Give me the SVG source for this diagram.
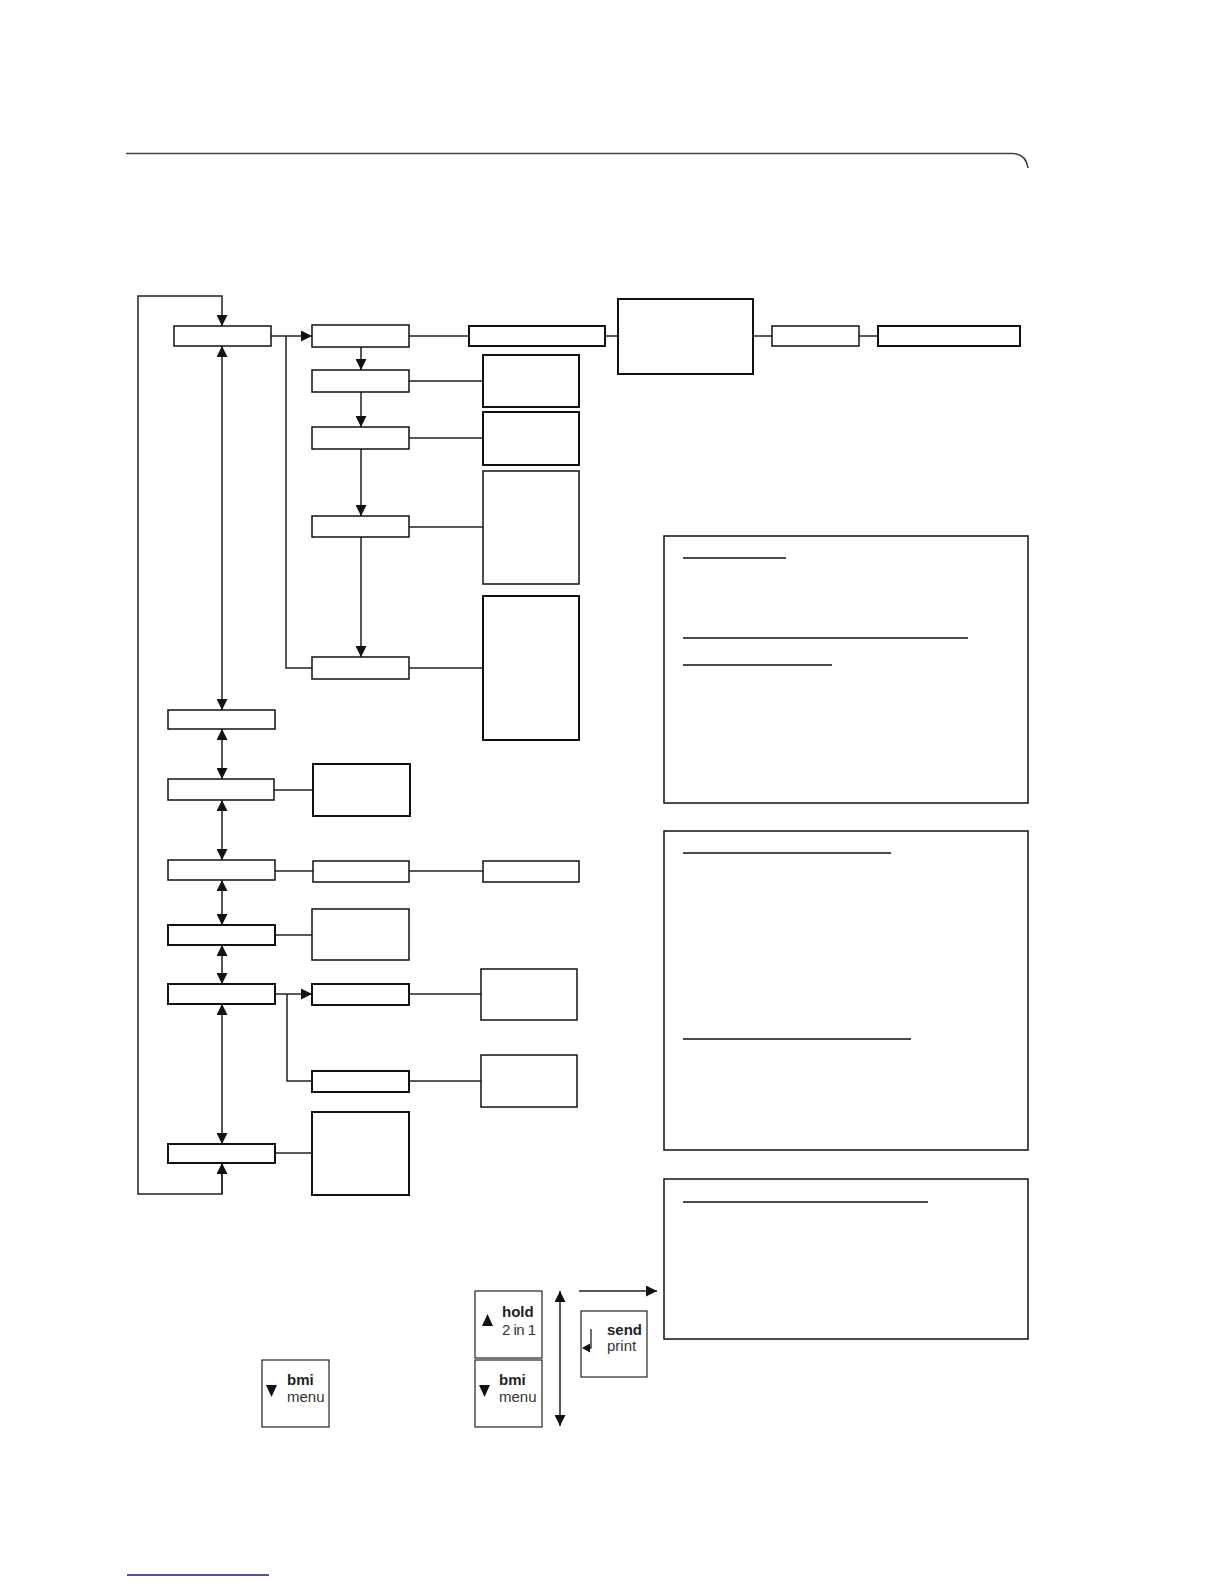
<svg xmlns="http://www.w3.org/2000/svg" width="1224" height="1584" viewBox="0 0 1224 1584">
<style>
.n{fill:#fff;stroke:#111;stroke-width:1.5}
.nb{fill:#fff;stroke:#111;stroke-width:2}
.c{fill:none;stroke:#222;stroke-width:1.5}
.ul{stroke:#111;stroke-width:1.6}
.k{fill:#fff;stroke:#222;stroke-width:1.2}
.tb{font-family:"Liberation Sans",Arial,sans-serif;font-size:15px;font-weight:bold;fill:#222}
.tr{font-family:"Liberation Sans",Arial,sans-serif;font-size:15px;fill:#333}
</style>
<defs>
<marker id="ah" markerUnits="userSpaceOnUse" markerWidth="11" markerHeight="11" refX="11" refY="5.5" orient="auto-start-reverse">
<path d="M0,0 L11,5.5 L0,11 z" fill="#111"/>
</marker>
</defs>
<rect width="1224" height="1584" fill="#fff"/>
<g id="header">
<path d="M126,153.5 H1013 Q1026,154 1028,168" fill="none" stroke="#444" stroke-width="1.6"/>
</g>
<g id="footer">
<line x1="127" y1="1575" x2="269" y2="1575" stroke="#1a1a80" stroke-width="1.6"/>
</g>
<g id="connectors">
<polyline class="c" points="222,1163 222,1194 138,1194 138,296 222,296 222,326" marker-end="url(#ah)"/>
<line class="c" x1="222" y1="1194" x2="222" y2="1163" marker-end="url(#ah)"/>
<line class="c" x1="271" y1="336" x2="312" y2="336" marker-end="url(#ah)"/>
<polyline class="c" points="286,336 286,668 312,668"/>
<line class="c" x1="409" y1="336" x2="469" y2="336"/>
<line class="c" x1="605" y1="336" x2="618" y2="336"/>
<line class="c" x1="753" y1="336" x2="772" y2="336"/>
<line class="c" x1="859" y1="336" x2="878" y2="336"/>
<line class="c" x1="361" y1="347" x2="361" y2="370" marker-end="url(#ah)"/>
<line class="c" x1="361" y1="392" x2="361" y2="427" marker-end="url(#ah)"/>
<line class="c" x1="361" y1="449" x2="361" y2="516" marker-end="url(#ah)"/>
<line class="c" x1="361" y1="537" x2="361" y2="657" marker-end="url(#ah)"/>
<line class="c" x1="409" y1="381" x2="483" y2="381"/>
<line class="c" x1="409" y1="438" x2="483" y2="438"/>
<line class="c" x1="409" y1="527" x2="483" y2="527"/>
<line class="c" x1="409" y1="668" x2="483" y2="668"/>
<line class="c" x1="222" y1="346" x2="222" y2="710" marker-start="url(#ah)" marker-end="url(#ah)"/>
<line class="c" x1="222" y1="729" x2="222" y2="779" marker-start="url(#ah)" marker-end="url(#ah)"/>
<line class="c" x1="222" y1="800" x2="222" y2="860" marker-start="url(#ah)" marker-end="url(#ah)"/>
<line class="c" x1="222" y1="880" x2="222" y2="925" marker-start="url(#ah)" marker-end="url(#ah)"/>
<line class="c" x1="222" y1="945" x2="222" y2="984" marker-start="url(#ah)" marker-end="url(#ah)"/>
<line class="c" x1="222" y1="1004" x2="222" y2="1144" marker-start="url(#ah)" marker-end="url(#ah)"/>
<line class="c" x1="274" y1="790" x2="313" y2="790"/>
<line class="c" x1="275" y1="871" x2="313" y2="871"/>
<line class="c" x1="409" y1="871" x2="483" y2="871"/>
<line class="c" x1="275" y1="935" x2="312" y2="935"/>
<line class="c" x1="275" y1="994" x2="312" y2="994" stroke-width="2" marker-end="url(#ah)"/>
<polyline class="c" points="287,994 287,1081 312,1081"/>
<line class="c" x1="409" y1="994" x2="481" y2="994"/>
<line class="c" x1="409" y1="1081" x2="481" y2="1081"/>
<line class="c" x1="275" y1="1153" x2="312" y2="1153"/>
<line class="c" x1="560" y1="1291" x2="560" y2="1426" marker-start="url(#ah)" marker-end="url(#ah)"/>
<line class="c" x1="579" y1="1291" x2="657" y2="1291" marker-end="url(#ah)"/>
</g>
<g id="A1"><rect class="n" x="174" y="326" width="97" height="20"/></g>
<g id="B1"><rect class="n" x="312" y="325" width="97" height="22"/></g>
<g id="C1"><rect class="nb" x="469" y="326" width="136" height="20"/></g>
<g id="D1"><rect class="nb" x="618" y="299" width="135" height="75"/></g>
<g id="F1"><rect class="n" x="772" y="326" width="87" height="20"/></g>
<g id="G1"><rect class="nb" x="878" y="326" width="142" height="20"/></g>
<g id="B2"><rect class="n" x="312" y="370" width="97" height="22"/></g>
<g id="B3"><rect class="n" x="312" y="427" width="97" height="22"/></g>
<g id="B4"><rect class="n" x="312" y="516" width="97" height="21"/></g>
<g id="B5"><rect class="n" x="312" y="657" width="97" height="22"/></g>
<g id="E1"><rect class="nb" x="483" y="355" width="96" height="52"/></g>
<g id="E2"><rect class="nb" x="483" y="412" width="96" height="53"/></g>
<g id="E3"><rect class="n" x="483" y="471" width="96" height="113"/></g>
<g id="E4"><rect class="nb" x="483" y="596" width="96" height="144"/></g>
<g id="A2"><rect class="n" x="168" y="710" width="107" height="19"/></g>
<g id="A3"><rect class="n" x="168" y="779" width="106" height="21"/></g>
<g id="H1"><rect class="nb" x="313" y="764" width="97" height="52"/></g>
<g id="A4"><rect class="n" x="168" y="860" width="107" height="20"/></g>
<g id="H2"><rect class="n" x="313" y="861" width="96" height="21"/></g>
<g id="H3"><rect class="n" x="483" y="861" width="96" height="21"/></g>
<g id="A5"><rect class="nb" x="168" y="925" width="107" height="20"/></g>
<g id="H4"><rect class="n" x="312" y="909" width="97" height="51"/></g>
<g id="A6"><rect class="nb" x="168" y="984" width="107" height="20"/></g>
<g id="H5"><rect class="nb" x="312" y="984" width="97" height="21"/></g>
<g id="I1"><rect class="n" x="481" y="969" width="96" height="51"/></g>
<g id="H6"><rect class="nb" x="312" y="1071" width="97" height="21"/></g>
<g id="I2"><rect class="n" x="481" y="1055" width="96" height="52"/></g>
<g id="A7"><rect class="nb" x="168" y="1144" width="107" height="19"/></g>
<g id="H7"><rect class="nb" x="312" y="1112" width="97" height="83"/></g>
<g id="N1">
<rect class="n" x="664" y="536" width="364" height="267"/>
<line class="ul" x1="683" y1="558" x2="786" y2="558"/>
<line class="ul" x1="683" y1="638" x2="968" y2="638"/>
<line class="ul" x1="683" y1="665" x2="832" y2="665"/>
</g>
<g id="N2">
<rect class="n" x="664" y="831" width="364" height="319"/>
<line class="ul" x1="683" y1="853" x2="891" y2="853"/>
<line class="ul" x1="683" y1="1039" x2="911" y2="1039"/>
</g>
<g id="N3">
<rect class="n" x="664" y="1179" width="364" height="160"/>
<line class="ul" x1="683" y1="1202" x2="928" y2="1202"/>
</g>
<g id="K1">
<rect class="k" x="262" y="1360" width="67" height="67"/>
<path d="M266,1385 L277,1385 L271.5,1397 z" fill="#111"/>
<text class="tb" x="287" y="1385">bmi</text>
<text class="tr" x="287" y="1402">menu</text>
</g>
<g id="K2">
<rect class="k" x="475" y="1291" width="67" height="67"/>
<path d="M482,1326 L493,1326 L487.5,1314 z" fill="#111"/>
<text class="tb" x="502" y="1317">hold</text>
<text class="tr" x="502" y="1335" letter-spacing="-0.5">2 in 1</text>
</g>
<g id="K3">
<rect class="k" x="475" y="1360" width="67" height="67"/>
<path d="M479,1385 L490,1385 L484.5,1397 z" fill="#111"/>
<text class="tb" x="499" y="1385">bmi</text>
<text class="tr" x="499" y="1402">menu</text>
</g>
<g id="K4">
<rect class="k" x="581" y="1311" width="66" height="66"/>
<polyline points="591,1329 591,1348 589,1348" fill="none" stroke="#222" stroke-width="1.3"/>
<path d="M582,1348 L590,1343.5 L590,1352.5 z" fill="#111"/>
<text class="tb" x="607" y="1335">send</text>
<text class="tr" x="607" y="1351">print</text>
</g>
</svg>
